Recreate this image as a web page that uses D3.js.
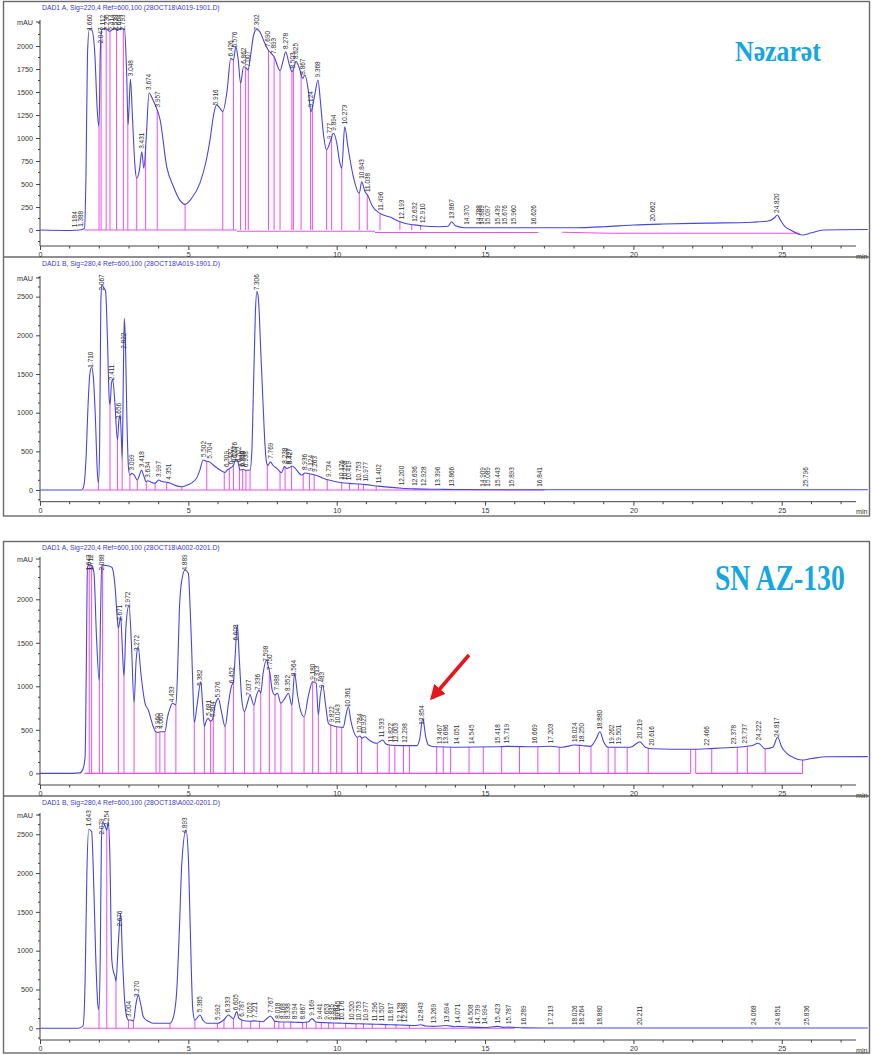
<!DOCTYPE html>
<html>
<head>
<meta charset="utf-8">
<script src="https://cdn.jsdelivr.net/npm/d3@7"></script>
<style>
  html, body { margin: 0; padding: 0; background: #ffffff; }
  svg { display: block; }
  .tick text { font-family: "Liberation Sans", Arial, sans-serif; }
</style>
</head>
<body>
<svg id="chart" width="872" height="1055"></svg>
<script>
// ---------- Nəzarət, DAD1 A (220 nm) ----------
const p1Times  = [0, 1.0, 1.18, 1.39, 1.50, 1.55, 1.60, 1.66, 1.75, 1.85, 1.93, 1.99, 2.03, 2.08, 2.20, 2.35, 2.50, 2.62, 2.70, 2.85, 2.92, 2.97, 3.048, 3.12, 3.20, 3.26, 3.35, 3.431, 3.50, 3.58, 3.674, 3.80, 3.957, 4.05, 4.27, 4.50, 4.70, 4.89, 5.10, 5.39, 5.60, 5.73, 5.85, 5.95, 6.05, 6.16, 6.30, 6.43, 6.52, 6.60, 6.68, 6.76, 6.86, 6.95, 7.01, 7.10, 7.20, 7.30, 7.40, 7.55, 7.69, 7.80, 7.89, 8.09, 8.20, 8.28, 8.40, 8.50, 8.63, 8.75, 8.85, 8.93, 9.05, 9.13, 9.25, 9.37, 9.45, 9.55, 9.66, 9.78, 9.89, 10.00, 10.10, 10.17, 10.27, 10.38, 10.56, 10.76, 10.843, 10.95, 11.04, 11.20, 11.46, 11.80, 12.13, 12.50, 12.63, 12.91, 13.48, 13.75, 13.87, 14.00, 14.30, 16.0, 18.0, 19.0, 20.0, 21.0, 22.5, 24.0, 24.5, 24.75, 24.85, 24.95, 25.1, 25.3, 25.7, 26.0, 26.4, 27.9];
const p1Values = [0, -5, -3, 2, 20, 600, 1900, 2180, 2170, 1900, 1300, 1120, 1900, 2180, 2190, 2160, 2190, 2170, 2190, 2180, 1700, 1150, 1640, 1200, 700, 562, 650, 851, 670, 1000, 1490, 1420, 1300, 1195, 690, 470, 330, 279, 340, 510, 750, 980, 1250, 1360, 1330, 1287, 1500, 1866, 1850, 1993, 1850, 1594, 1775, 1760, 1740, 1900, 2120, 2180, 2160, 2050, 1957, 1920, 1884, 1732, 1850, 1938, 1800, 1721, 1830, 1750, 1648, 1685, 1500, 1286, 1450, 1630, 1400, 1050, 870, 960, 1051, 950, 740, 670, 1123, 900, 580, 399, 525, 420, 380, 260, 181, 140, 90, 60, 56, 43, 36, 40, 90, 45, 25, 25, 25, 35, 54, 65, 75, 85, 95, 130, 163, 110, 40, 0, -54, -30, 0, 5];
const p1Drops  = [1.99, 2.06, 2.23, 2.36, 2.58, 2.81, 2.96, 3.26, 3.56, 3.95, 4.89, 6.16, 6.52, 6.76, 6.93, 7.02, 7.70, 7.89, 8.09, 8.49, 8.54, 8.80, 9.12, 9.18, 9.66, 9.83, 10.17, 10.76, 11.03, 11.46, 12.13, 12.53, 12.83];
const p1Labels = [1.184, 1.388, 1.660, 2.047, 2.112, 2.236, 2.414, 2.538, 2.664, 2.793, 3.048, 3.431, 3.674, 3.957, 5.916, 6.426, 6.576, 6.862, 7.007, 7.302, 7.690, 7.893, 8.278, 8.503, 8.625, 8.867, 9.124, 9.368, 9.777, 9.894, 10.273, 10.843, 11.038, 11.496, 12.193, 12.632, 12.910, 13.867, 14.370, 14.788, 14.889, 15.097, 15.439, 15.676, 15.960, 16.626, 20.662, 24.820];
const p1Base   = [[1.50, 6.63, 0, 0], [6.63, 11.29, -14, -14], [11.29, 16.8, -27, -27], [17.6, 19.2, -25, -36], [19.2, 25.6, -36, -36]];

// ---------- Nəzarət, DAD1 B (280 nm) ----------
const p2Times  = [0, 1.40, 1.48, 1.55, 1.62, 1.68, 1.74, 1.80, 1.87, 1.93, 1.97, 2.01, 2.05, 2.08, 2.14, 2.21, 2.27, 2.33, 2.36, 2.41, 2.45, 2.52, 2.61, 2.66, 2.70, 2.74, 2.77, 2.81, 2.84, 2.88, 2.93, 2.98, 3.03, 3.10, 3.18, 3.28, 3.36, 3.42, 3.50, 3.58, 3.634, 3.75, 3.88, 3.997, 4.10, 4.27, 4.351, 4.55, 4.78, 5.00, 5.17, 5.30, 5.39, 5.50, 5.62, 5.70, 5.84, 6.07, 6.24, 6.31, 6.40, 6.52, 6.60, 6.66, 6.74, 6.85, 6.95, 7.08, 7.14, 7.20, 7.26, 7.31, 7.36, 7.44, 7.52, 7.58, 7.64, 7.68, 7.769, 7.85, 7.98, 8.14, 8.238, 8.32, 8.40, 8.50, 8.60, 8.82, 8.936, 9.124, 9.263, 9.50, 9.734, 10.176, 10.419, 10.753, 10.977, 11.402, 12.200, 12.636, 12.928, 13.396, 14.0, 16.0, 20.0, 25.0, 27.9];
const p2Values = [0, 0, 60, 400, 1100, 1500, 1587, 1450, 900, 250, 87, 600, 2400, 2651, 2620, 2570, 2000, 1200, 1099, 1380, 1431, 1150, 647, 900, 970, 700, 388, 1500, 2220, 1900, 900, 300, 194, 215, 190, 129, 200, 259, 180, 108, 120, 100, 87, 129, 110, 100, 95, 60, 43, 70, 108, 170, 259, 388, 370, 366, 323, 259, 228, 259, 280, 320, 400, 380, 259, 265, 255, 259, 500, 1400, 2300, 2565, 2480, 1800, 1100, 600, 345, 318, 366, 320, 280, 224, 302, 280, 290, 310, 280, 194, 220, 207, 194, 160, 129, 95, 86, 78, 70, 50, 22, 15, 12, 10, 6, 4, 3, 3, 3];
const p2Drops  = [1.97, 2.36, 2.61, 2.77, 3.03, 3.28, 3.58, 3.88, 4.27, 4.78, 5.62, 6.21, 6.38, 6.52, 6.72, 6.83, 6.94, 7.08, 7.66, 8.09, 8.26, 8.48, 8.87, 9.08, 9.24, 9.68, 10.17, 10.43, 10.73, 10.90, 11.33];
const p2Labels = [1.710, 2.067, 2.411, 2.656, 2.822, 3.099, 3.418, 3.634, 3.997, 4.351, 5.502, 5.704, 6.309, 6.437, 6.521, 6.576, 6.702, 6.786, 6.838, 6.938, 7.306, 7.769, 8.238, 8.397, 8.427, 8.936, 9.124, 9.263, 9.734, 10.176, 10.258, 10.419, 10.753, 10.977, 11.402, 12.200, 12.636, 12.928, 13.396, 13.866, 14.909, 15.089, 15.443, 15.893, 16.841, 25.796];
const p2Base   = [[1.45, 17.0, 0, 0]];

// ---------- SN AZ-130, DAD1 A (220 nm) ----------
const p3Times  = [0, 1.10, 1.35, 1.45, 1.52, 1.56, 1.60, 1.66, 1.74, 1.82, 1.90, 2.00, 2.04, 2.08, 2.20, 2.30, 2.42, 2.53, 2.60, 2.64, 2.72, 2.78, 2.83, 2.90, 3.00, 3.08, 3.17, 3.24, 3.31, 3.40, 3.54, 3.65, 3.82, 3.90, 3.98, 4.07, 4.21, 4.30, 4.38, 4.47, 4.58, 4.64, 4.70, 4.78, 4.89, 5.00, 5.06, 5.11, 5.16, 5.20, 5.30, 5.42, 5.48, 5.54, 5.60, 5.67, 5.74, 5.81, 5.90, 6.01, 6.12, 6.24, 6.35, 6.45, 6.52, 6.57, 6.65, 6.72, 6.80, 6.89, 7.00, 7.08, 7.21, 7.30, 7.39, 7.44, 7.52, 7.64, 7.70, 7.75, 7.83, 7.92, 8.00, 8.12, 8.25, 8.37, 8.49, 8.58, 8.68, 8.80, 8.90, 9.05, 9.19, 9.31, 9.38, 9.45, 9.53, 9.62, 9.72, 9.80, 10.00, 10.22, 10.30, 10.39, 10.48, 10.70, 10.78, 10.86, 10.95, 11.10, 11.35, 11.55, 11.65, 11.78, 12.00, 12.26, 12.70, 12.80, 12.90, 13.00, 13.09, 13.30, 14.00, 15.42, 15.72, 16.67, 17.20, 17.60, 18.02, 18.25, 18.55, 18.75, 18.87, 19.00, 19.15, 19.50, 19.90, 20.22, 20.40, 20.62, 21.93, 22.47, 23.46, 24.00, 24.21, 24.44, 24.70, 24.86, 25.00, 25.17, 25.40, 25.67, 26.00, 26.50, 27.9];
const p3Values = [0, 0, 5, 50, 190, 1200, 2375, 2394, 2390, 2300, 1600, 1053, 1800, 2394, 2390, 2385, 2368, 2145, 1800, 1667, 1800, 1400, 1110, 1700, 1934, 1500, 805, 1300, 1455, 1150, 805, 728, 536, 478, 470, 478, 478, 650, 747, 805, 785, 1200, 1900, 2222, 2337, 2299, 1900, 1455, 900, 582, 800, 1053, 800, 536, 600, 632, 600, 613, 780, 862, 700, 536, 800, 1000, 1053, 1300, 1705, 1300, 850, 709, 820, 900, 785, 900, 958, 920, 1150, 1302, 1220, 1149, 950, 900, 920, 805, 860, 920, 785, 1149, 900, 700, 651, 900, 1053, 1034, 670, 900, 1015, 800, 575, 555, 536, 528, 650, 766, 600, 414, 429, 405, 421, 380, 345, 383, 340, 325, 320, 318, 318, 400, 632, 420, 325, 305, 300, 305, 310, 305, 312, 300, 325, 320, 310, 400, 478, 360, 300, 300, 300, 363, 300, 283, 276, 283, 299, 320, 345, 283, 300, 414, 300, 230, 180, 153, 170, 191, 192];
const p3Drops  = [1.66, 1.74, 2.00, 2.11, 2.64, 2.83, 3.17, 3.91, 4.04, 4.21, 4.58, 5.20, 5.54, 5.75, 5.84, 6.24, 6.52, 6.89, 7.21, 7.44, 7.73, 7.92, 8.12, 8.49, 8.90, 9.19, 9.38, 9.80, 10.00, 10.17, 10.70, 10.84, 11.37, 11.77, 11.96, 12.25, 12.45, 13.37, 13.59, 13.84, 14.46, 14.94, 15.56, 16.16, 16.78, 17.50, 18.18, 18.57, 19.15, 19.38, 19.79, 20.50, 21.93, 22.10, 22.64, 23.50, 23.84, 24.44, 25.70];
const p3Labels = [1.642, 1.712, 2.088, 2.671, 2.972, 3.272, 3.960, 4.060, 4.433, 4.889, 5.382, 5.681, 5.804, 5.976, 6.452, 6.608, 7.037, 7.336, 7.598, 7.750, 7.988, 8.352, 8.564, 9.180, 9.313, 9.483, 9.822, 10.043, 10.361, 10.784, 10.923, 11.533, 11.822, 12.003, 12.298, 12.854, 13.467, 13.686, 14.051, 14.545, 15.418, 15.719, 16.669, 17.203, 18.024, 18.250, 18.880, 19.262, 19.501, 20.219, 20.616, 22.466, 23.378, 23.737, 24.222, 24.817];
const p3Base   = [[1.50, 21.93, 0, 0], [22.10, 25.70, 0, 0]];

// ---------- SN AZ-130, DAD1 B (280 nm) ----------
const p4Times  = [0, 1.29, 1.45, 1.52, 1.58, 1.643, 1.74, 1.80, 1.88, 1.95, 1.99, 2.03, 2.07, 2.11, 2.20, 2.25, 2.30, 2.35, 2.42, 2.48, 2.53, 2.56, 2.64, 2.72, 2.78, 2.86, 2.92, 2.98, 3.05, 3.15, 3.23, 3.31, 3.40, 3.48, 3.65, 3.82, 4.38, 4.50, 4.61, 4.70, 4.78, 4.92, 5.00, 5.06, 5.15, 5.22, 5.39, 5.50, 5.62, 5.98, 6.20, 6.35, 6.52, 6.63, 6.70, 6.80, 7.05, 7.22, 7.50, 7.77, 7.90, 8.02, 8.17, 8.34, 8.59, 8.87, 9.05, 9.169, 9.30, 9.44, 9.65, 9.90, 10.18, 10.52, 10.75, 10.98, 11.30, 11.50, 11.82, 12.13, 12.29, 12.60, 12.84, 13.00, 13.27, 13.69, 14.00, 14.07, 14.51, 14.74, 15.00, 15.42, 15.60, 15.79, 16.29, 17.00, 20.00, 25.00, 27.9];
const p4Values = [0, 0, 30, 600, 2000, 2564, 2534, 2000, 900, 300, 236, 900, 2400, 2662, 2600, 2555, 2662, 2300, 880, 720, 665, 600, 1100, 1482, 900, 322, 150, 107, 107, 95, 300, 429, 300, 150, 90, 64, 64, 150, 493, 1300, 2126, 2555, 2200, 1353, 236, 107, 171, 100, 64, 64, 110, 171, 124, 214, 130, 107, 90, 95, 85, 159, 95, 85, 80, 80, 78, 75, 85, 124, 80, 75, 72, 68, 65, 60, 58, 55, 52, 50, 45, 42, 40, 35, 45, 30, 25, 35, 20, 25, 15, 12, 10, 25, 12, 15, 5, 3, 3, 3, 3];
const p4Drops  = [1.99, 2.25, 2.56, 2.98, 3.15, 4.38, 5.22, 5.98, 6.20, 6.52, 6.80, 7.10, 7.40, 7.90, 8.05, 8.22, 8.45, 8.85, 8.98, 9.30, 9.48, 9.72, 9.90, 10.30, 10.65, 10.90, 11.20, 11.65, 12.00, 12.45];
const p4Labels = [1.643, 2.079, 2.254, 2.676, 3.004, 3.270, 4.893, 5.385, 5.992, 6.333, 6.605, 6.787, 7.052, 7.221, 7.767, 8.018, 8.168, 8.338, 8.594, 8.867, 9.169, 9.441, 9.653, 9.835, 9.982, 10.045, 10.176, 10.520, 10.753, 10.977, 11.296, 11.507, 11.817, 12.128, 12.288, 12.843, 13.269, 13.694, 14.071, 14.508, 14.739, 14.994, 15.423, 15.787, 16.289, 17.213, 18.026, 18.264, 18.880, 20.211, 24.068, 24.851, 25.836];
const p4Base   = [[1.45, 16.0, 0, 0]];

// axis ticks
const xTickLabels = [0, 5, 10, 15, 20, 25];
const yTicksA1 = [0, 250, 500, 750, 1000, 1250, 1500, 1750, 2000];
const yTicks500 = [0, 500, 1000, 1500, 2000, 2500];
const yTicks500b = [0, 500, 1000, 1500, 2000];

// panel titles and sample names
const titles = [
  "DAD1 A, Sig=220,4 Ref=600,100 (28OCT18\\A019-1901.D)",
  "DAD1 B, Sig=280,4 Ref=600,100 (28OCT18\\A019-1901.D)",
  "DAD1 A, Sig=220,4 Ref=600,100 (28OCT18\\A002-0201.D)",
  "DAD1 B, Sig=280,4 Ref=600,100 (28OCT18\\A002-0201.D)"
];
const sampleNames = ["Nəzarət", "SN AZ-130"];

// ---------- layout ----------
const svg = d3.select("#chart");
const TRACE = "#4646e6";
const PINK = "#f04cf0";
const FONT = "'Liberation Sans', Arial, sans-serif";

const x = d3.scaleLinear().domain([0, 27.3]).range([40, 850]);

const panels = [
  { title: titles[0], frameTop: 1.5, axisY: 246, y: d3.scaleLinear().domain([-174, 2283]).range([246, 20]), ticks: yTicksA1, minor: 250, t: p1Times, v: p1Values, drops: p1Drops, labels: p1Labels, base: p1Base },
  { title: titles[1], frameTop: 257, axisY: 501.7, y: d3.scaleLinear().domain([-151, 2767]).range([501.7, 276]), ticks: yTicks500, minor: 250, t: p2Times, v: p2Values, drops: p2Drops, labels: p2Labels, base: p2Base },
  { title: titles[2], frameTop: 541.5, axisY: 785, y: d3.scaleLinear().domain([-134, 2486]).range([785, 557]), ticks: yTicks500b, minor: 250, t: p3Times, v: p3Values, drops: p3Drops, labels: p3Labels, base: p3Base },
  { title: titles[3], frameTop: 796, axisY: 1040, y: d3.scaleLinear().domain([-151, 2774]).range([1040, 813]), ticks: yTicks500, minor: 250, t: p4Times, v: p4Values, drops: p4Drops, labels: p4Labels, base: p4Base }
];

function valueAt(times, values, t) {
  const i = d3.bisectLeft(times, t);
  if (i <= 0) return values[0];
  if (i >= times.length) return values[values.length - 1];
  const t0 = times[i - 1], t1 = times[i];
  return values[i - 1] + (values[i] - values[i - 1]) * (t - t0) / (t1 - t0);
}

// frames around the two sample blocks
[[1.5, 516], [541.5, 1053]].forEach(([top, bottom]) => {
  svg.append("rect").attr("x", 3.5).attr("y", top).attr("width", 866).attr("height", bottom - top)
    .attr("fill", "none").attr("stroke", "#6a6a6a").attr("stroke-width", 1.4);
});
[257, 796].forEach(yy => {
  svg.append("line").attr("x1", 3.5).attr("x2", 869.5).attr("y1", yy).attr("y2", yy)
    .attr("stroke", "#6a6a6a").attr("stroke-width", 1.4);
});

panels.forEach((p, idx) => {
  const g = svg.append("g");
  const yTop = p.y.range()[1];
  const clipId = "clip" + idx;
  svg.append("clipPath").attr("id", clipId).append("rect")
    .attr("x", 40).attr("y", p.frameTop + 10).attr("width", 829).attr("height", p.axisY - p.frameTop - 10);

  // title
  g.append("text").attr("x", 42).attr("y", p.frameTop + 8.5)
    .attr("font-family", FONT).attr("font-size", 6.8).attr("fill", "#3a3ad0")
    .text(p.title);

  // y axis
  const yAxis = d3.axisLeft(p.y).tickValues(p.ticks).tickSize(4).tickPadding(3).tickFormat(d3.format("d"));
  const ya = g.append("g").attr("transform", "translate(40,0)").call(yAxis);
  ya.select(".domain").remove();
  ya.selectAll("text").attr("font-size", 7.2).attr("fill", "#333");
  ya.selectAll("line").attr("stroke", "#444");
  g.append("line").attr("x1", 40).attr("x2", 40).attr("y1", yTop).attr("y2", p.axisY).attr("stroke", "#444").attr("stroke-width", 1);
  // minor y ticks
  const minorY = d3.range(Math.ceil(p.y.domain()[0] / (p.minor / 2)) * (p.minor / 2), p.y.domain()[1], p.minor / 2)
    .filter(v => !p.ticks.includes(v));
  g.selectAll(".my").data(minorY).join("line")
    .attr("x1", 38).attr("x2", 40).attr("y1", d => p.y(d)).attr("y2", d => p.y(d)).attr("stroke", "#444");
  // mAU unit at top of the y axis
  g.append("line").attr("x1", 36).attr("x2", 40).attr("y1", yTop + 2).attr("y2", yTop + 2).attr("stroke", "#444");
  g.append("text").attr("x", 33).attr("y", yTop + 4.5).attr("text-anchor", "end")
    .attr("font-family", FONT).attr("font-size", 7.2).attr("fill", "#333").text("mAU");

  // x axis
  const xAxis = d3.axisBottom(x).tickValues(xTickLabels).tickSize(4).tickPadding(2).tickFormat(d3.format("d"));
  const xa = g.append("g").attr("transform", `translate(0,${p.axisY})`).call(xAxis);
  xa.select(".domain").remove();
  xa.selectAll("text").attr("font-size", 7.2).attr("fill", "#333");
  xa.selectAll("line").attr("stroke", "#444");
  g.append("line").attr("x1", 40).attr("x2", 856).attr("y1", p.axisY).attr("y2", p.axisY).attr("stroke", "#444");
  const minorX = d3.range(1, 28).filter(v => v % 5 !== 0);
  g.selectAll(".mx").data(minorX).join("line")
    .attr("x1", d => x(d)).attr("x2", d => x(d)).attr("y1", p.axisY).attr("y2", p.axisY + 2.5).attr("stroke", "#444");
  g.append("text").attr("x", 856).attr("y", p.axisY + 12.5)
    .attr("font-family", FONT).attr("font-size", 7.2).attr("fill", "#333").text("min");

  const plot = g.append("g").attr("clip-path", `url(#${clipId})`);

  // integration baselines
  plot.selectAll(".base").data(p.base).join("line")
    .attr("x1", d => x(d[0])).attr("x2", d => x(d[1]))
    .attr("y1", d => p.y(d[2])).attr("y2", d => p.y(d[3]))
    .attr("stroke", PINK).attr("stroke-width", 1.1);

  // drop lines from baseline to the signal
  plot.selectAll(".drop").data(p.drops).join("line")
    .attr("x1", d => x(d)).attr("x2", d => x(d))
    .attr("y1", p.y(0)).attr("y2", d => p.y(valueAt(p.t, p.v, d)))
    .attr("stroke", PINK).attr("stroke-width", 1);

  // signal
  const pts = p.t.map((t, i) => [t, p.v[i]]);
  plot.append("path").datum(pts)
    .attr("d", d3.line().x(d => x(d[0])).y(d => p.y(d[1])).curve(d3.curveMonotoneX))
    .attr("fill", "none").attr("stroke", TRACE).attr("stroke-width", 1.1);

  // retention time labels
  const fmt = d3.format(".3f");
  const labelLen = 17;
  plot.selectAll(".lbl").data(p.labels).join("text")
    .attr("transform", d => {
      const yy = p.y(valueAt(p.t, p.v, d)) - 3;
      const yb = Math.max(yy, p.frameTop + 12 + labelLen);
      return `translate(${x(d) + 2.3},${yb}) rotate(-90)`;
    })
    .attr("font-family", FONT).attr("font-size", 6.4).attr("fill", "#333")
    .text(d => fmt(d));
});

// sample names (bold serif, horizontally condensed)
svg.append("text").attr("transform", "translate(735,61) scale(0.86,1)")
  .attr("font-family", "'Liberation Serif', 'DejaVu Serif', serif").attr("font-weight", "bold")
  .attr("font-size", 30).attr("fill", "#16a6e2")
  .text(sampleNames[0]);
svg.append("text").attr("transform", "translate(715,589.5) scale(0.79,1)")
  .attr("font-family", "'Liberation Serif', 'DejaVu Serif', serif").attr("font-weight", "bold")
  .attr("font-size", 35).attr("fill", "#16a6e2")
  .text(sampleNames[1]);

// arrow pointing at the 12.854 peak
const defs = svg.append("defs");
defs.append("marker").attr("id", "arrowHead").attr("viewBox", "0 0 10 10")
  .attr("refX", 8).attr("refY", 5).attr("markerWidth", 4.2).attr("markerHeight", 4.2)
  .attr("orient", "auto").attr("markerUnits", "strokeWidth")
  .append("path").attr("d", "M0,0 L10,5 L0,10 z").attr("fill", "#e8151d");
svg.append("line").attr("x1", 469).attr("y1", 655).attr("x2", 432).attr("y2", 698)
  .attr("stroke", "#e8151d").attr("stroke-width", 3.6).attr("marker-end", "url(#arrowHead)");
</script>
</body>
</html>
